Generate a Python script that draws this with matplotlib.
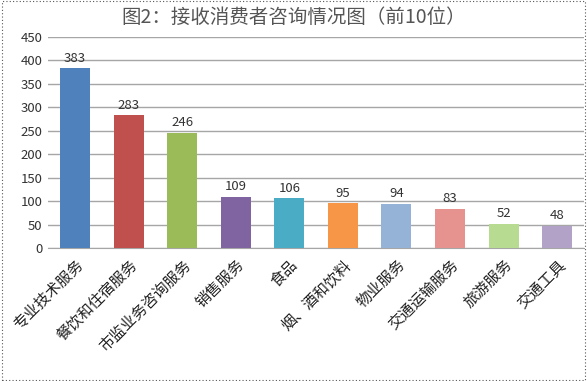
import matplotlib
matplotlib.use("Agg")
import matplotlib.pyplot as plt
from matplotlib.patches import Rectangle

plt.rcParams['font.family'] = ['Noto Sans CJK SC', 'DejaVu Sans']

categories = ["专业技术服务", "餐饮和住宿服务", "市监业务咨询服务", "销售服务", "食品",
              "烟、酒和饮料", "物业服务", "交通运输服务", "旅游服务", "交通工具"]
values = [383, 283, 246, 109, 106, 95, 94, 83, 52, 48]
colors = ["#4F81BD", "#C0504D", "#9BBB59", "#8064A2", "#4BACC6",
          "#F79646", "#95B3D7", "#E6938F", "#B7DB90", "#B3A2C7"]
yticks = list(range(0, 451, 50))
title = "图2：接收消费者咨询情况图（前10位）"

fig = plt.figure(figsize=(5.87, 3.81), dpi=100)
ax = fig.add_axes([0.082, 0.349, 0.913, 0.554])

x = range(len(categories))
bars = ax.bar(x, values, width=0.56, color=colors, zorder=3)
for xi, v in zip(x, values):
    ax.text(xi, v + 8, str(v), ha='center', va='bottom', fontsize=9.5, color='#333333')

ax.set_ylim(0, 450)
ax.set_xlim(-0.5, len(categories) - 0.5)
ax.set_yticks(yticks)
ax.set_yticklabels([str(t) for t in yticks], fontsize=9.5, color='#333333')
ax.set_xticks(list(x))
ax.set_xticklabels(categories, rotation=45, ha='right', va='top',
                   rotation_mode='anchor', fontsize=11, color='#222222')
ax.tick_params(axis='both', length=0, pad=4)
ax.tick_params(axis='x', pad=6)
ax.grid(axis='y', color='#A6A6A6', linewidth=1, zorder=0)
for s in ['top', 'right', 'left']:
    ax.spines[s].set_visible(False)
ax.spines['bottom'].set_color('#A6A6A6')
ax.set_facecolor('none')

fig.text(0.5, 0.955, title, ha='center', va='center', fontsize=14, color='#555555')

fig.patches.append(Rectangle((0.003, 0.003), 0.994, 0.994, transform=fig.transFigure,
                             fill=False, edgecolor='#555555', linestyle=(0, (1, 2)),
                             linewidth=0.8))

fig.savefig("out.png", dpi=100)
